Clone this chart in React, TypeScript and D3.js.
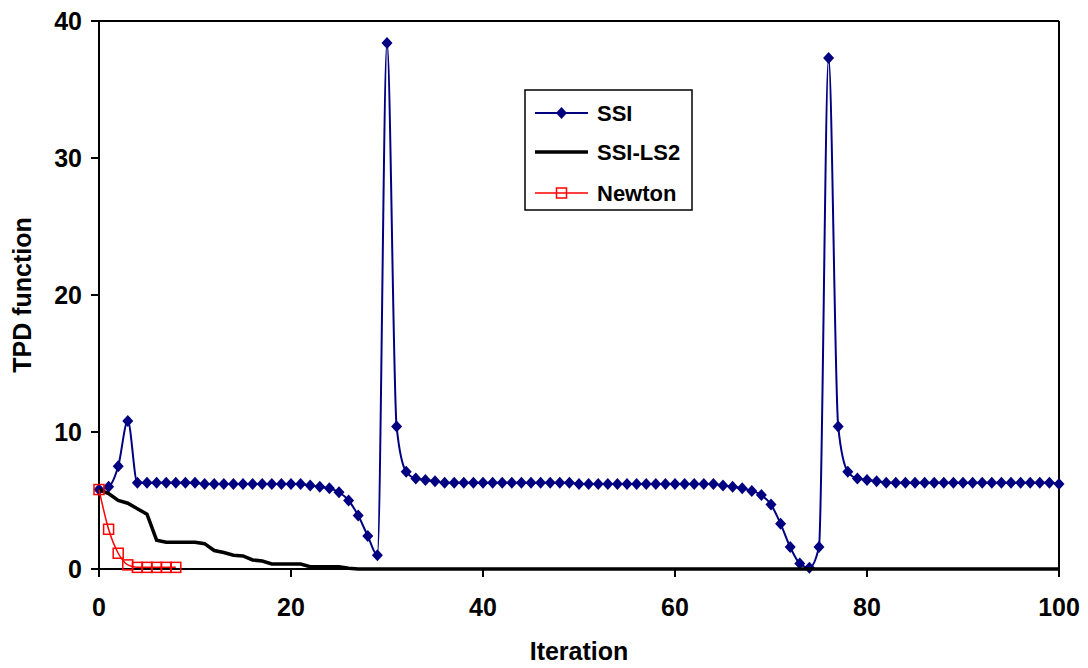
import React from "react";
import * as d3 from "d3";

// ---- Data ----
const ssiValues: number[] = [
  5.8, 6.0, 7.5, 10.8, 6.3, 6.3, 6.3, 6.3, 6.3, 6.3,
  6.3, 6.2, 6.2, 6.2, 6.2, 6.2, 6.2, 6.2, 6.2, 6.2,
  6.2, 6.2, 6.1, 6.0, 5.9, 5.6, 5.0, 3.9, 2.4, 1.0,
  38.4, 10.4, 7.1, 6.6, 6.5, 6.4, 6.3, 6.3, 6.3, 6.3,
  6.3, 6.3, 6.3, 6.3, 6.3, 6.3, 6.3, 6.3, 6.3, 6.3,
  6.2, 6.2, 6.2, 6.2, 6.2, 6.2, 6.2, 6.2, 6.2, 6.2,
  6.2, 6.2, 6.2, 6.2, 6.2, 6.1, 6.0, 5.9, 5.7, 5.4,
  4.7, 3.3, 1.6, 0.4, 0.1, 1.6, 37.3, 10.4, 7.1, 6.6,
  6.5, 6.4, 6.3, 6.3, 6.3, 6.3, 6.3, 6.3, 6.3, 6.3,
  6.3, 6.3, 6.3, 6.3, 6.3, 6.3, 6.3, 6.3, 6.3, 6.3,
  6.2,
];

const ls2Values: number[] = [
  5.8, 5.5, 5.0, 4.8, 4.4, 4.0, 2.1, 1.95, 1.95, 1.95,
  1.95, 1.85, 1.35, 1.2, 1.0, 0.95, 0.66, 0.58, 0.37, 0.36,
  0.36, 0.36, 0.17, 0.17, 0.17, 0.17, 0.05, 0, 0, 0,
  0, 0, 0, 0, 0, 0, 0, 0, 0, 0,
  0, 0, 0, 0, 0, 0, 0, 0, 0, 0,
  0, 0, 0, 0, 0, 0, 0, 0, 0, 0,
  0, 0, 0, 0, 0, 0, 0, 0, 0, 0,
  0, 0, 0, 0, 0, 0, 0, 0, 0, 0,
  0, 0, 0, 0, 0, 0, 0, 0, 0, 0,
  0, 0, 0, 0, 0, 0, 0, 0, 0, 0,
  0,
];

const newtonValues: number[] = [5.8, 2.9, 1.15, 0.3, 0.12, 0.12, 0.12, 0.12, 0.12];

const xTicks: number[] = [0, 20, 40, 60, 80, 100];
const yTicks: number[] = [0, 10, 20, 30, 40];
const seriesNames: string[] = ["SSI", "SSI-LS2", "Newton"];

const W = 1088;
const H = 668;
const M = { left: 99, right: 1059, top: 21, bottom: 569 };
const FONT = "'Liberation Sans', Arial, sans-serif";
const NAVY = "#000080";

export default function App() {
  const x = d3.scaleLinear().domain([0, 100]).range([M.left, M.right]);
  const y = d3.scaleLinear().domain([0, 40]).range([M.bottom, M.top]);

  const ssiPts = ssiValues.map((v, i) => [i, v] as [number, number]);
  const ls2Pts = ls2Values.map((v, i) => [i, v] as [number, number]);
  const newPts = newtonValues.map((v, i) => [i, v] as [number, number]);

  const smooth = d3
    .line<[number, number]>()
    .x((d) => x(d[0]))
    .y((d) => y(d[1]))
    .curve(d3.curveMonotoneX);
  const straight = d3
    .line<[number, number]>()
    .x((d) => x(d[0]))
    .y((d) => y(d[1]));

  const diamond = (cx: number, cy: number) =>
    `M${cx},${cy - 6}L${cx + 5.5},${cy}L${cx},${cy + 6}L${cx - 5.5},${cy}Z`;

  const legX = 525;
  const legY = 90;
  const rows = [113, 152, 193];

  return (
    <svg
      width={W}
      height={H}
      style={{ position: "absolute", left: 0, top: 0, background: "#fff" }}
      fontFamily={FONT}
    >
      {/* frame */}
      <line x1={M.left} x2={M.right} y1={M.top} y2={M.top} stroke="#000" strokeWidth={2} />
      <line x1={M.right} x2={M.right} y1={M.top} y2={M.bottom} stroke="#000" strokeWidth={2} />
      {/* axes */}
      <line x1={M.left} x2={M.left} y1={M.top} y2={M.bottom + 8} stroke="#000" strokeWidth={2} />
      <line x1={M.left - 8} x2={M.right} y1={M.bottom} y2={M.bottom} stroke="#000" strokeWidth={2} />
      {yTicks.map((t) => (
        <g key={"y" + t}>
          <line x1={M.left - 8} x2={M.left} y1={y(t)} y2={y(t)} stroke="#000" strokeWidth={2} />
          <text
            x={M.left - 17}
            y={y(t)}
            dy="0.36em"
            textAnchor="end"
            fontSize={25}
            fontWeight="bold"
          >
            {t}
          </text>
        </g>
      ))}
      {xTicks.map((t) => (
        <g key={"x" + t}>
          <line x1={x(t)} x2={x(t)} y1={M.bottom} y2={M.bottom + 8} stroke="#000" strokeWidth={2} />
          <text x={x(t)} y={616} textAnchor="middle" fontSize={25} fontWeight="bold">
            {t}
          </text>
        </g>
      ))}
      <text x={(M.left + M.right) / 2} y={660} textAnchor="middle" fontSize={25} fontWeight="bold">
        Iteration
      </text>
      <text
        transform={`translate(31,${(M.top + M.bottom) / 2}) rotate(-90)`}
        textAnchor="middle"
        fontSize={25}
        fontWeight="bold"
      >
        TPD function
      </text>

      {/* SSI */}
      <path d={smooth(ssiPts) || ""} fill="none" stroke={NAVY} strokeWidth={2} />
      {ssiPts.map((d, i) => (
        <path key={"s" + i} d={diamond(x(d[0]), y(d[1]))} fill={NAVY} />
      ))}
      {/* SSI-LS2 */}
      <path d={straight(ls2Pts) || ""} fill="none" stroke="#000" strokeWidth={3.5} />
      {/* Newton */}
      <path d={smooth(newPts) || ""} fill="none" stroke="#ff0000" strokeWidth={1.5} />
      {newPts.map((d, i) => (
        <rect
          key={"n" + i}
          x={x(d[0]) - 5}
          y={y(d[1]) - 5}
          width={10}
          height={10}
          fill="none"
          stroke="#ff0000"
          strokeWidth={1.5}
        />
      ))}

      {/* legend */}
      <rect x={legX} y={legY} width={167} height={120} fill="#fff" stroke="#000" strokeWidth={1.5} />
      <line x1={535} x2={588} y1={rows[0]} y2={rows[0]} stroke={NAVY} strokeWidth={2} />
      <path d={diamond(561.5, rows[0])} fill={NAVY} />
      <line x1={535} x2={588} y1={rows[1]} y2={rows[1]} stroke="#000" strokeWidth={3.5} />
      <line x1={535} x2={588} y1={rows[2]} y2={rows[2]} stroke="#ff0000" strokeWidth={1.5} />
      <rect x={556.5} y={rows[2] - 5} width={10} height={10} fill="none" stroke="#ff0000" strokeWidth={1.5} />
      {seriesNames.map((n, i) => (
        <text key={n} x={597} y={rows[i]} dy="0.36em" fontSize={22} fontWeight="bold">
          {n}
        </text>
      ))}
    </svg>
  );
}
